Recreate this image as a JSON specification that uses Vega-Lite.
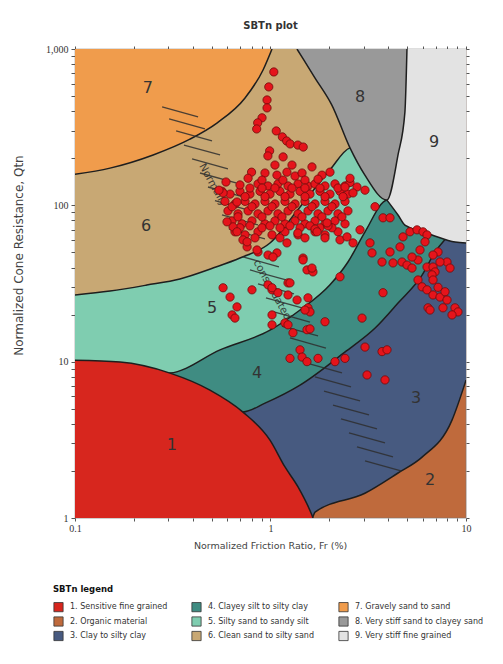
{
"$schema":"https://vega.github.io/schema/vega-lite/v6.json",
"width":391,"height":469,
"autosize":{"type":"none"},
"padding":{"left":75,"top":49,"right":37,"bottom":146},
"background":"white",
"title":{"text":"SBTn plot","font":"DejaVu Sans","fontSize":10,"fontWeight":"bold","color":"#333","offset":13,"anchor":"middle"},
"config":{"view":{"fill":"#bf6a3c","stroke":"#777","strokeWidth":0.6},
"axis":{"grid":false,"domain":false,"labelFont":"Liberation Serif","labelFontSize":10,"labelColor":"#333","tickColor":"#555","tickSize":3,"labelOverlap":false,"labelFlush":false,"titleFont":"DejaVu Sans","titleFontWeight":"normal","titleColor":"#444"}},
"datasets":{
"bounds":[
{"zone":"3. Clay to silty clay","Fr":0.1,"Qtn":1},{"zone":"3. Clay to silty clay","Fr":1.63,"Qtn":1},{"zone":"3. Clay to silty clay","Fr":1.69,"Qtn":1.09},{"zone":"3. Clay to silty clay","Fr":3.04,"Qtn":1.44},{"zone":"3. Clay to silty clay","Fr":4.49,"Qtn":1.94},{"zone":"3. Clay to silty clay","Fr":5.96,"Qtn":2.45},{"zone":"3. Clay to silty clay","Fr":8.48,"Qtn":4.23},{"zone":"3. Clay to silty clay","Fr":10,"Qtn":7.62},
{"zone":"4. Clayey silt to silty clay","Fr":0.1,"Qtn":4.5},{"zone":"4. Clayey silt to silty clay","Fr":0.723,"Qtn":4.76},{"zone":"4. Clayey silt to silty clay","Fr":0.938,"Qtn":5.43},{"zone":"4. Clayey silt to silty clay","Fr":1.416,"Qtn":7.08},{"zone":"4. Clayey silt to silty clay","Fr":2.4,"Qtn":11.5},{"zone":"4. Clayey silt to silty clay","Fr":3.43,"Qtn":16.4},{"zone":"4. Clayey silt to silty clay","Fr":4.49,"Qtn":23.7},{"zone":"4. Clayey silt to silty clay","Fr":5.96,"Qtn":35.8},{"zone":"4. Clayey silt to silty clay","Fr":6.94,"Qtn":50.2},{"zone":"4. Clayey silt to silty clay","Fr":7.81,"Qtn":60.5},{"zone":"4. Clayey silt to silty clay","Fr":8.79,"Qtn":70},{"zone":"4. Clayey silt to silty clay","Fr":10,"Qtn":70},
{"zone":"5. Silty sand to sandy silt","Fr":0.1,"Qtn":8.0},{"zone":"5. Silty sand to sandy silt","Fr":0.306,"Qtn":8.45},{"zone":"5. Silty sand to sandy silt","Fr":0.552,"Qtn":11.9},{"zone":"5. Silty sand to sandy silt","Fr":0.994,"Qtn":15.9},{"zone":"5. Silty sand to sandy silt","Fr":1.416,"Qtn":21.4},{"zone":"5. Silty sand to sandy silt","Fr":2.01,"Qtn":30.9},{"zone":"5. Silty sand to sandy silt","Fr":2.49,"Qtn":43.4},{"zone":"5. Silty sand to sandy silt","Fr":3.04,"Qtn":67.5},{"zone":"5. Silty sand to sandy silt","Fr":3.94,"Qtn":108},{"zone":"5. Silty sand to sandy silt","Fr":10,"Qtn":120},
{"zone":"6. Clean sand to silty sand","Fr":0.1,"Qtn":26.7},{"zone":"6. Clean sand to silty sand","Fr":0.151,"Qtn":28.3},{"zone":"6. Clean sand to silty sand","Fr":0.233,"Qtn":30.9},{"zone":"6. Clean sand to silty sand","Fr":0.344,"Qtn":33.8},{"zone":"6. Clean sand to silty sand","Fr":0.508,"Qtn":39.7},{"zone":"6. Clean sand to silty sand","Fr":0.698,"Qtn":46},{"zone":"6. Clean sand to silty sand","Fr":0.994,"Qtn":57.4},{"zone":"6. Clean sand to silty sand","Fr":1.416,"Qtn":97.5},{"zone":"6. Clean sand to silty sand","Fr":2.01,"Qtn":168},{"zone":"6. Clean sand to silty sand","Fr":2.55,"Qtn":233},{"zone":"6. Clean sand to silty sand","Fr":10,"Qtn":300},
{"zone":"7. Gravely sand to sand","Fr":0.1,"Qtn":158},{"zone":"7. Gravely sand to sand","Fr":0.151,"Qtn":173},{"zone":"7. Gravely sand to sand","Fr":0.251,"Qtn":210},{"zone":"7. Gravely sand to sand","Fr":0.387,"Qtn":265},{"zone":"7. Gravely sand to sand","Fr":0.532,"Qtn":336},{"zone":"7. Gravely sand to sand","Fr":0.741,"Qtn":486},{"zone":"7. Gravely sand to sand","Fr":0.916,"Qtn":734},{"zone":"7. Gravely sand to sand","Fr":1.018,"Qtn":1000},
{"zone":"9. Very stiff fine grained","Fr":3.94,"Qtn":108,"Qtop":108},{"zone":"9. Very stiff fine grained","Fr":4.49,"Qtn":86.7,"Qtop":210},{"zone":"9. Very stiff fine grained","Fr":4.87,"Qtn":74.8,"Qtop":395},{"zone":"9. Very stiff fine grained","Fr":4.99,"Qtn":73.5,"Qtop":1000},{"zone":"9. Very stiff fine grained","Fr":6.7,"Qtn":64.6,"Qtop":1000},{"zone":"9. Very stiff fine grained","Fr":8.79,"Qtn":58.2,"Qtop":1000},{"zone":"9. Very stiff fine grained","Fr":10,"Qtn":57.4,"Qtop":1000},
{"zone":"8. Very stiff sand to clayey sand","Fr":1.366,"Qtn":1000},{"zone":"8. Very stiff sand to clayey sand","Fr":1.69,"Qtn":652},{"zone":"8. Very stiff sand to clayey sand","Fr":2.06,"Qtn":438},{"zone":"8. Very stiff sand to clayey sand","Fr":2.55,"Qtn":233},{"zone":"8. Very stiff sand to clayey sand","Fr":3.04,"Qtn":156},{"zone":"8. Very stiff sand to clayey sand","Fr":3.94,"Qtn":108},{"zone":"8. Very stiff sand to clayey sand","Fr":4.49,"Qtn":210},{"zone":"8. Very stiff sand to clayey sand","Fr":4.87,"Qtn":395},{"zone":"8. Very stiff sand to clayey sand","Fr":4.99,"Qtn":1000},
{"zone":"1. Sensitive fine grained","Fr":0.1,"Qtn":10.2},{"zone":"1. Sensitive fine grained","Fr":0.17,"Qtn":9.94},{"zone":"1. Sensitive fine grained","Fr":0.306,"Qtn":8.45},{"zone":"1. Sensitive fine grained","Fr":0.49,"Qtn":6.58},{"zone":"1. Sensitive fine grained","Fr":0.723,"Qtn":4.76},{"zone":"1. Sensitive fine grained","Fr":0.994,"Qtn":3.15},{"zone":"1. Sensitive fine grained","Fr":1.186,"Qtn":2.12},{"zone":"1. Sensitive fine grained","Fr":1.383,"Qtn":1.58},{"zone":"1. Sensitive fine grained","Fr":1.63,"Qtn":1.04},{"zone":"1. Sensitive fine grained","Fr":1.65,"Qtn":1}
],
"hatch":[
{"Fr":0.279,"Qtn":426,"Fr2":0.426,"Qtn2":368},{"Fr":0.303,"Qtn":357,"Fr2":0.462,"Qtn2":308},{"Fr":0.329,"Qtn":299,"Fr2":0.502,"Qtn2":258},{"Fr":0.361,"Qtn":243,"Fr2":0.552,"Qtn2":210},{"Fr":0.397,"Qtn":198,"Fr2":0.606,"Qtn2":171},{"Fr":0.436,"Qtn":161,"Fr2":0.666,"Qtn2":139},{"Fr":0.479,"Qtn":131,"Fr2":0.732,"Qtn2":113},{"Fr":0.52,"Qtn":107,"Fr2":0.795,"Qtn2":92.1},{"Fr":0.565,"Qtn":86.8,"Fr2":0.863,"Qtn2":74.9},{"Fr":0.613,"Qtn":70.6,"Fr2":0.937,"Qtn2":61},
{"Fr":0.723,"Qtn":46.8,"Fr2":1.105,"Qtn2":40.4},{"Fr":0.785,"Qtn":38.6,"Fr2":1.2,"Qtn2":33.3},{"Fr":0.863,"Qtn":31.4,"Fr2":1.319,"Qtn2":27.1},{"Fr":0.948,"Qtn":25.6,"Fr2":1.449,"Qtn2":22.1},{"Fr":1.042,"Qtn":20.8,"Fr2":1.592,"Qtn2":17.9},{"Fr":1.145,"Qtn":16.9,"Fr2":1.75,"Qtn2":14.6},{"Fr":1.258,"Qtn":14.2,"Fr2":1.922,"Qtn2":12.2},
{"Fr":1.519,"Qtn":9.81,"Fr2":2.321,"Qtn2":8.47},{"Fr":1.689,"Qtn":7.98,"Fr2":2.581,"Qtn2":6.89},{"Fr":1.878,"Qtn":6.49,"Fr2":2.87,"Qtn2":5.61},{"Fr":2.088,"Qtn":5.28,"Fr2":3.19,"Qtn2":4.56},{"Fr":2.294,"Qtn":4.3,"Fr2":3.506,"Qtn2":3.71},{"Fr":2.521,"Qtn":3.5,"Fr2":3.852,"Qtn2":3.02},{"Fr":2.77,"Qtn":2.85,"Fr2":4.233,"Qtn2":2.46},{"Fr":3.044,"Qtn":2.32,"Fr2":4.651,"Qtn2":2.0}
],
"nc":[{"t":"Normally","Fr":0.508,"Qtn":135},{"t":"consolidated","Fr":1.018,"Qtn":28.8}],
"labels":[{"n":"7","Fr":0.236,"Qtn":563},{"n":"6","Fr":0.231,"Qtn":73.7},{"n":"5","Fr":0.502,"Qtn":22},{"n":"4","Fr":0.853,"Qtn":8.45},{"n":"3","Fr":5.55,"Qtn":5.85},{"n":"2","Fr":6.55,"Qtn":1.75},{"n":"1","Fr":0.313,"Qtn":2.93},{"n":"8","Fr":2.87,"Qtn":493},{"n":"9","Fr":6.86,"Qtn":254}],
"pts":[
{"Fr":1.04,"Qtn":713},{"Fr":0.98,"Qtn":572},{"Fr":0.96,"Qtn":472},{"Fr":0.96,"Qtn":420},{"Fr":0.905,"Qtn":363},{"Fr":0.86,"Qtn":337},{"Fr":0.85,"Qtn":308},{"Fr":1.07,"Qtn":299},{"Fr":1.15,"Qtn":274},{"Fr":1.21,"Qtn":258},{"Fr":1.26,"Qtn":247},{"Fr":1.38,"Qtn":243},{"Fr":1.47,"Qtn":236},{"Fr":0.99,"Qtn":223},{"Fr":0.97,"Qtn":207},{"Fr":1.16,"Qtn":204},{"Fr":0.8,"Qtn":163},
{"Fr":0.937,"Qtn":161},{"Fr":1.079,"Qtn":156},{"Fr":1.214,"Qtn":163},{"Fr":1.335,"Qtn":154},{"Fr":1.45,"Qtn":161},{"Fr":1.834,"Qtn":156},{"Fr":2.015,"Qtn":163},
{"Fr":0.863,"Qtn":137},{"Fr":0.971,"Qtn":133},{"Fr":1.092,"Qtn":137},{"Fr":1.229,"Qtn":133},{"Fr":1.383,"Qtn":137},{"Fr":1.555,"Qtn":133},{"Fr":1.689,"Qtn":137},{"Fr":1.9,"Qtn":133},{"Fr":2.137,"Qtn":137},{"Fr":2.405,"Qtn":133},{"Fr":2.551,"Qtn":140},
{"Fr":0.565,"Qtn":123},{"Fr":0.621,"Qtn":118},{"Fr":0.698,"Qtn":123},{"Fr":0.785,"Qtn":118},{"Fr":0.884,"Qtn":123},{"Fr":0.994,"Qtn":118},{"Fr":1.118,"Qtn":123},{"Fr":1.258,"Qtn":118},{"Fr":1.416,"Qtn":123},{"Fr":1.592,"Qtn":118},{"Fr":1.791,"Qtn":123},{"Fr":2.015,"Qtn":118},{"Fr":2.267,"Qtn":123},{"Fr":2.49,"Qtn":118},
{"Fr":0.585,"Qtn":106},{"Fr":0.658,"Qtn":102},{"Fr":0.741,"Qtn":106},{"Fr":0.833,"Qtn":102},{"Fr":0.937,"Qtn":106},{"Fr":1.054,"Qtn":102},{"Fr":1.186,"Qtn":106},{"Fr":1.335,"Qtn":102},{"Fr":1.501,"Qtn":106},{"Fr":1.689,"Qtn":102},{"Fr":1.9,"Qtn":106},{"Fr":2.137,"Qtn":102},{"Fr":2.405,"Qtn":106},
{"Fr":0.606,"Qtn":92.1},{"Fr":0.682,"Qtn":88.2},{"Fr":0.768,"Qtn":92.1},{"Fr":0.863,"Qtn":88.2},{"Fr":0.971,"Qtn":92.1},{"Fr":1.092,"Qtn":88.2},{"Fr":1.229,"Qtn":92.1},{"Fr":1.383,"Qtn":88.2},{"Fr":1.555,"Qtn":92.1},{"Fr":1.75,"Qtn":88.2},{"Fr":1.968,"Qtn":92.1},{"Fr":2.214,"Qtn":88.2},{"Fr":2.49,"Qtn":92.1},
{"Fr":0.636,"Qtn":79.5},{"Fr":0.715,"Qtn":76.1},{"Fr":0.804,"Qtn":79.5},{"Fr":0.937,"Qtn":76.1},{"Fr":1.054,"Qtn":79.5},{"Fr":1.186,"Qtn":76.1},{"Fr":1.335,"Qtn":79.5},{"Fr":1.501,"Qtn":76.1},{"Fr":1.689,"Qtn":79.5},{"Fr":1.9,"Qtn":76.1},{"Fr":2.137,"Qtn":79.5},{"Fr":2.405,"Qtn":76.1},
{"Fr":0.658,"Qtn":67.7},{"Fr":0.741,"Qtn":64.7},{"Fr":0.863,"Qtn":67.7},{"Fr":1.018,"Qtn":64.7},{"Fr":1.186,"Qtn":67.7},{"Fr":1.383,"Qtn":64.7},{"Fr":1.689,"Qtn":67.7},{"Fr":1.9,"Qtn":64.7},{"Fr":2.214,"Qtn":67.7},
{"Fr":0.905,"Qtn":145},{"Fr":1.158,"Qtn":145},{"Fr":1.501,"Qtn":145},{"Fr":1.75,"Qtn":147},
{"Fr":0.741,"Qtn":113.6},{"Fr":0.937,"Qtn":113.6},{"Fr":1.186,"Qtn":113.6},{"Fr":1.501,"Qtn":113.6},{"Fr":1.9,"Qtn":113.6},{"Fr":2.35,"Qtn":113.6},
{"Fr":0.636,"Qtn":98},{"Fr":0.804,"Qtn":98},{"Fr":1.018,"Qtn":98},{"Fr":1.288,"Qtn":98},{"Fr":1.63,"Qtn":98},{"Fr":2.063,"Qtn":98},
{"Fr":0.682,"Qtn":84.4},{"Fr":0.905,"Qtn":84.4},{"Fr":1.145,"Qtn":84.4},{"Fr":1.45,"Qtn":84.4},{"Fr":1.834,"Qtn":84.4},{"Fr":2.32,"Qtn":84.4},
{"Fr":0.698,"Qtn":71.8},{"Fr":0.905,"Qtn":71.8},{"Fr":1.118,"Qtn":71.8},{"Fr":1.416,"Qtn":71.8},{"Fr":1.791,"Qtn":71.8},{"Fr":2.063,"Qtn":71.8},
{"Fr":0.785,"Qtn":129},{"Fr":0.905,"Qtn":129},{"Fr":1.054,"Qtn":129},{"Fr":1.288,"Qtn":129},{"Fr":1.501,"Qtn":129},{"Fr":1.791,"Qtn":129},{"Fr":2.214,"Qtn":129},
{"Fr":0.785,"Qtn":73.9},{"Fr":0.994,"Qtn":73.9},{"Fr":1.258,"Qtn":73.9},{"Fr":1.592,"Qtn":73.9},{"Fr":1.968,"Qtn":73.9},
{"Fr":1.054,"Qtn":181},{"Fr":1.288,"Qtn":181},{"Fr":1.63,"Qtn":176},
{"Fr":0.833,"Qtn":61.9},{"Fr":1.118,"Qtn":61.9},{"Fr":1.501,"Qtn":61.9},{"Fr":1.9,"Qtn":61.9},
{"Fr":0.643,"Qtn":72.8},{"Fr":0.723,"Qtn":60.1},{"Fr":0.759,"Qtn":54.2},{"Fr":0.863,"Qtn":50.3},{"Fr":0.971,"Qtn":48.1},{"Fr":1.079,"Qtn":49.6},{"Fr":1.214,"Qtn":57.5},{"Fr":1.38,"Qtn":66.5},{"Fr":1.689,"Qtn":70.5},{"Fr":1.73,"Qtn":67.7},{"Fr":1.946,"Qtn":77.2},{"Fr":2.267,"Qtn":60.1},{"Fr":2.463,"Qtn":62.8},{"Fr":2.643,"Qtn":57.5},{"Fr":2.87,"Qtn":69.7},{"Fr":3.424,"Qtn":98},{"Fr":3.763,"Qtn":83.2},{"Fr":4.086,"Qtn":83.2},{"Fr":3.228,"Qtn":57.5},{"Fr":3.305,"Qtn":49.6},{"Fr":1.467,"Qtn":46},{"Fr":1.537,"Qtn":38.6},{"Fr":1.649,"Qtn":37.5},
{"Fr":2.551,"Qtn":149},{"Fr":2.77,"Qtn":131},{"Fr":3.044,"Qtn":125},{"Fr":2.643,"Qtn":120},{"Fr":2.405,"Qtn":131},
{"Fr":3.719,"Qtn":43.4},{"Fr":4.086,"Qtn":50.3},{"Fr":4.597,"Qtn":54.2},{"Fr":4.233,"Qtn":42.8},{"Fr":4.707,"Qtn":43.4},{"Fr":4.993,"Qtn":41.5},{"Fr":5.295,"Qtn":39.7},{"Fr":5.682,"Qtn":44.7},{"Fr":4.762,"Qtn":62.8},{"Fr":5.171,"Qtn":67.7},{"Fr":5.617,"Qtn":69.7},{"Fr":6.027,"Qtn":67.7},{"Fr":6.319,"Qtn":64.7},{"Fr":6.171,"Qtn":58.4},{"Fr":6.319,"Qtn":40.3},{"Fr":6.781,"Qtn":40.3},{"Fr":6.942,"Qtn":37.5},{"Fr":6.702,"Qtn":35.9},{"Fr":7.192,"Qtn":50.3},{"Fr":7.997,"Qtn":43.4},{"Fr":8.283,"Qtn":39.7},{"Fr":5.682,"Qtn":33.3},{"Fr":5.958,"Qtn":30.1},{"Fr":6.319,"Qtn":28.8},{"Fr":6.781,"Qtn":26.7},{"Fr":7.362,"Qtn":25.9},{"Fr":7.81,"Qtn":28},{"Fr":7.997,"Qtn":24.8},{"Fr":7.627,"Qtn":22.1},{"Fr":6.393,"Qtn":22.1},{"Fr":8.785,"Qtn":22.1},{"Fr":9.1,"Qtn":20.8},{"Fr":8.482,"Qtn":19.9},{"Fr":3.763,"Qtn":27.6},{"Fr":2.939,"Qtn":19},{"Fr":2.267,"Qtn":34.9},
{"Fr":6.545,"Qtn":21.4},{"Fr":5.295,"Qtn":46.7},{"Fr":5.818,"Qtn":51.8},{"Fr":6.781,"Qtn":48.1},{"Fr":7.362,"Qtn":43.4},{"Fr":6.781,"Qtn":33.3},{"Fr":7.192,"Qtn":29.9},
{"Fr":3.044,"Qtn":12.4},{"Fr":3.719,"Qtn":11.6},{"Fr":3.944,"Qtn":11.9},{"Fr":3.117,"Qtn":8.22},{"Fr":3.852,"Qtn":7.64},
{"Fr":1.229,"Qtn":31.9},{"Fr":1.018,"Qtn":28.8},{"Fr":1.092,"Qtn":27.6},{"Fr":1.229,"Qtn":26.7},{"Fr":1.367,"Qtn":24.8},{"Fr":1.555,"Qtn":25.6},{"Fr":1.555,"Qtn":22.1},{"Fr":1.592,"Qtn":20.8},{"Fr":1.018,"Qtn":19.9},{"Fr":1.186,"Qtn":17.7},{"Fr":1.229,"Qtn":17.2},{"Fr":1.9,"Qtn":18},{"Fr":1.303,"Qtn":15.3},{"Fr":1.537,"Qtn":16},{"Fr":1.592,"Qtn":16.2},{"Fr":1.416,"Qtn":11.9},{"Fr":1.45,"Qtn":10.7},{"Fr":1.537,"Qtn":10},{"Fr":1.258,"Qtn":10.5},{"Fr":1.75,"Qtn":10.5},{"Fr":2.137,"Qtn":10},{"Fr":2.405,"Qtn":10.5},
{"Fr":0.572,"Qtn":29.7},{"Fr":0.621,"Qtn":25.9},{"Fr":0.674,"Qtn":22.4},{"Fr":0.636,"Qtn":19.9},{"Fr":0.658,"Qtn":19},{"Fr":0.804,"Qtn":28.8},{"Fr":0.971,"Qtn":31},{"Fr":1.018,"Qtn":29.7},{"Fr":1.501,"Qtn":21.4},{"Fr":1.018,"Qtn":17.2},{"Fr":1.03,"Qtn":46.7},{"Fr":1.467,"Qtn":44.7},{"Fr":1.63,"Qtn":39.7},{"Fr":1.258,"Qtn":31.9},
{"Fr":0.572,"Qtn":120},{"Fr":0.674,"Qtn":105},{"Fr":0.599,"Qtn":78.4},{"Fr":0.674,"Qtn":67.7},{"Fr":0.759,"Qtn":58.4},{"Fr":0.853,"Qtn":51.8},{"Fr":0.545,"Qtn":125},{"Fr":0.592,"Qtn":141},{"Fr":0.698,"Qtn":135},{"Fr":0.768,"Qtn":149}
]
},
"resolve":{"axis":{"x":"independent","y":"independent"}},
"encoding":{
"x":{"field":"Fr","type":"quantitative","scale":{"type":"log","domain":[0.1,10],"nice":false},"axis":null},
"y":{"field":"Qtn","type":"quantitative","scale":{"type":"log","domain":[1,1000],"nice":false},"axis":null}
},
"layer":[
{"data":{"name":"bounds"},"transform":[{"filter":{"field":"zone","equal":"3. Clay to silty clay"}}],"layer":[
{"mark":{"type":"area","interpolate":"monotone","clip":true},"encoding":{"y2":{"datum":1000},"color":{"field":"zone","type":"nominal",
"scale":{"domain":["1. Sensitive fine grained","2. Organic material","3. Clay to silty clay","4. Clayey silt to silty clay","5. Silty sand to sandy silt","6. Clean sand to silty sand","7. Gravely sand to sand","8. Very stiff sand to clayey sand","9. Very stiff fine grained"],
"range":["#d7261e","#bf6a3c","#475a80","#3f8c82","#7fcdb0","#c8a874","#f09c4c","#999999","#e3e3e3"]},
"legend":{"title":"SBTn legend","orient":"none","legendX":-22,"legendY":536,"columns":3,"symbolType":"square","symbolSize":85,"symbolStrokeColor":"#333","symbolStrokeWidth":0.8,"symbolOpacity":1,"labelFont":"DejaVu Sans","labelFontSize":8,"labelColor":"#333","labelLimit":250,"labelOffset":6,"titleFont":"DejaVu Sans","titleFontSize":8.5,"titleFontWeight":"bold","titleColor":"#111","titlePadding":8,"rowPadding":1.5,"columnPadding":22}}}},
{"mark":{"type":"line","interpolate":"monotone","color":"#1e1e1e","strokeWidth":1.5,"clip":true},"encoding":{}}]},
{"data":{"name":"bounds"},"transform":[{"filter":{"field":"zone","equal":"4. Clayey silt to silty clay"}}],"layer":[
{"mark":{"type":"area","interpolate":"monotone","clip":true},"encoding":{"y2":{"datum":1000},"color":{"field":"zone","type":"nominal"}}},
{"mark":{"type":"line","interpolate":"monotone","color":"#1e1e1e","strokeWidth":1.5,"clip":true},"encoding":{}}]},
{"data":{"name":"bounds"},"transform":[{"filter":{"field":"zone","equal":"5. Silty sand to sandy silt"}}],"layer":[
{"mark":{"type":"area","interpolate":"monotone","clip":true},"encoding":{"y2":{"datum":1000},"color":{"field":"zone","type":"nominal"}}},
{"mark":{"type":"line","interpolate":"monotone","color":"#1e1e1e","strokeWidth":1.5,"clip":true},"encoding":{}}]},
{"data":{"name":"bounds"},"transform":[{"filter":{"field":"zone","equal":"6. Clean sand to silty sand"}}],"layer":[
{"mark":{"type":"area","interpolate":"monotone","clip":true},"encoding":{"y2":{"datum":1000},"color":{"field":"zone","type":"nominal"}}},
{"mark":{"type":"line","interpolate":"monotone","color":"#1e1e1e","strokeWidth":1.5,"clip":true},"encoding":{}}]},
{"data":{"name":"bounds"},"transform":[{"filter":{"field":"zone","equal":"7. Gravely sand to sand"}}],"layer":[
{"mark":{"type":"area","interpolate":"monotone","clip":true},"encoding":{"y2":{"datum":1000},"color":{"field":"zone","type":"nominal"}}},
{"mark":{"type":"line","interpolate":"monotone","color":"#1e1e1e","strokeWidth":1.5,"clip":true},"encoding":{}}]},
{"data":{"name":"bounds"},"transform":[{"filter":{"field":"zone","equal":"9. Very stiff fine grained"}}],"layer":[
{"mark":{"type":"area","interpolate":"monotone","clip":true},"encoding":{"y2":{"field":"Qtop"},"color":{"field":"zone","type":"nominal"}}},
{"mark":{"type":"line","interpolate":"monotone","color":"#1e1e1e","strokeWidth":1.5,"clip":true},"encoding":{}}]},
{"data":{"name":"bounds"},"transform":[{"filter":{"field":"zone","equal":"8. Very stiff sand to clayey sand"}}],"layer":[
{"mark":{"type":"area","interpolate":"monotone","clip":true},"encoding":{"y2":{"datum":1000},"color":{"field":"zone","type":"nominal"}}},
{"mark":{"type":"line","interpolate":"monotone","color":"#1e1e1e","strokeWidth":1.5,"clip":true},"encoding":{}}]},
{"data":{"name":"bounds"},"transform":[{"filter":{"field":"zone","equal":"1. Sensitive fine grained"}}],"layer":[
{"mark":{"type":"area","interpolate":"monotone","clip":true},"encoding":{"y2":{"datum":1},"color":{"field":"zone","type":"nominal"}}},
{"mark":{"type":"line","interpolate":"monotone","color":"#1e1e1e","strokeWidth":1.5,"clip":true},"encoding":{}}]},
{"data":{"name":"hatch"},"mark":{"type":"rule","color":"#2e2e2e","strokeWidth":1.3,"opacity":0.85,"clip":true},"encoding":{"x2":{"field":"Fr2"},"y2":{"field":"Qtn2"}}},
{"data":{"name":"nc"},"mark":{"type":"text","angle":61,"font":"DejaVu Sans","fontSize":10.5,"color":"#2e2e2e","opacity":0.9},"encoding":{"text":{"field":"t"}}},
{"data":{"name":"labels"},"mark":{"type":"text","font":"DejaVu Sans","fontSize":16,"color":"#333"},"encoding":{
"x":{"field":"Fr","type":"quantitative","scale":{"type":"log","domain":[0.1,10],"nice":false},"axis":{"orient":"top","labels":false,"title":null,"values":[0.1,0.2,0.3,0.4,0.5,0.6,0.7,0.8,0.9,1,2,3,4,5,6,7,8,9,10],"tickSize":3}},
"y":{"field":"Qtn","type":"quantitative","scale":{"type":"log","domain":[1,1000],"nice":false},"axis":{"orient":"right","labels":false,"title":null,"values":[1,2,3,4,5,6,7,8,9,10,20,30,40,50,60,70,80,90,100,200,300,400,500,600,700,800,900,1000],"tickSize":3}},
"text":{"field":"n"}}},
{"data":{"name":"pts"},"mark":{"type":"circle","size":68,"fill":"#e5141b","stroke":"#6e0b0b","strokeWidth":0.8,"opacity":1,"clip":true},"encoding":{
"x":{"field":"Fr","type":"quantitative","scale":{"type":"log","domain":[0.1,10],"nice":false},"axis":{"orient":"bottom","values":[0.1,0.2,0.3,0.4,0.5,0.6,0.7,0.8,0.9,1,2,3,4,5,6,7,8,9,10],"labelExpr":"indexof([0.1,1,10], datum.value) >= 0 ? datum.label : ''","format":"~g","labelPadding":2,"title":"Normalized Friction Ratio, Fr (%)","titleFontSize":9.5,"titleX":195,"titleY":27,"titleBaseline":"middle"}},
"y":{"field":"Qtn","type":"quantitative","scale":{"type":"log","domain":[1,1000],"nice":false},"axis":{"orient":"left","values":[1,2,3,4,5,6,7,8,9,10,20,30,40,50,60,70,80,90,100,200,300,400,500,600,700,800,900,1000],"labelExpr":"indexof([1,10,100,1000], datum.value) >= 0 ? datum.label : ''","format":",","tickSize":4,"labelPadding":3,"title":"Normalized Cone Resistance, Qtn","titleFontSize":12,"titleX":-57,"titleY":206,"titleAngle":-90,"titleBaseline":"middle"}}}}
]
}
